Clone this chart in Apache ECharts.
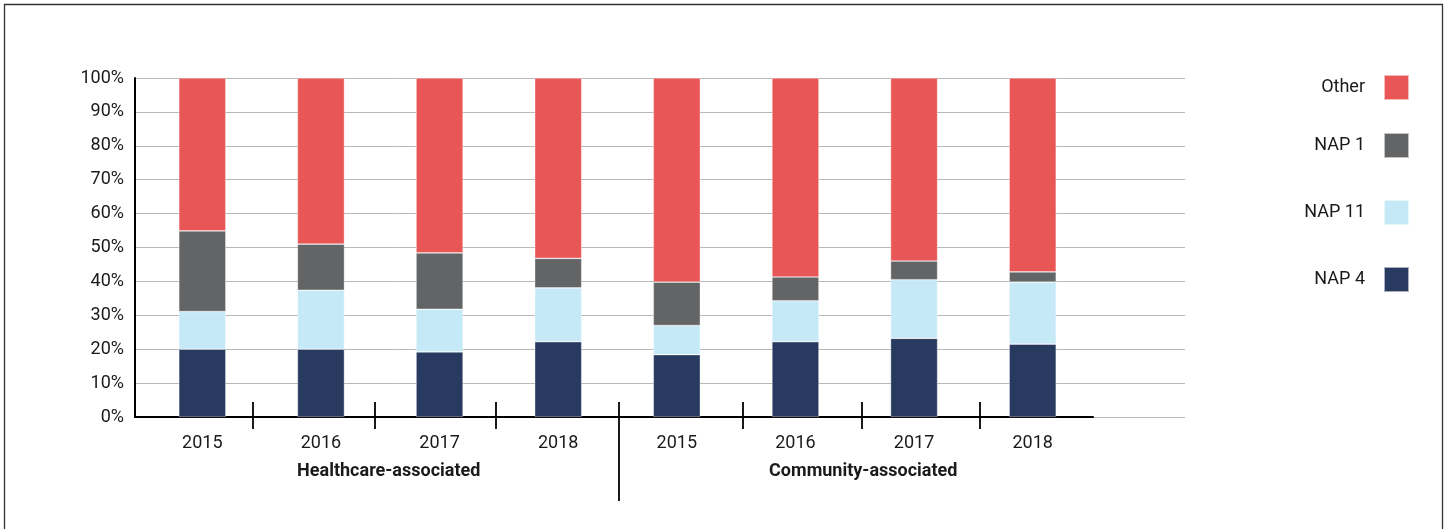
<!DOCTYPE html>
<html>
<head>
<meta charset="utf-8">
<script src="https://cdn.jsdelivr.net/npm/echarts@6/dist/echarts.min.js"></script>
<style>
html,body{margin:0;padding:0;background:#fff;}
#chart{width:1448px;height:529px;}
</style>
</head>
<body>
<div id="chart"></div>
<script>
// ---- data ----
const years = ['2015', '2016', '2017', '2018', '2015', '2016', '2017', '2018'];
const groups = ['Healthcare-associated', 'Community-associated'];
const nap4  = [20.0, 20.0, 19.2, 22.2, 18.4, 22.2, 23.2, 21.5];
const nap11 = [11.1, 17.4, 12.6, 15.9, 8.6, 12.1, 17.3, 18.3];
const nap1  = [23.8, 13.6, 16.6, 8.7, 12.8, 7.0, 5.5, 3.0];
const other = [45.1, 49.0, 51.6, 53.2, 60.2, 58.7, 54.0, 57.2];
const yTicks = [0, 10, 20, 30, 40, 50, 60, 70, 80, 90, 100];
// category separators (in category-slot units along the x axis)
const allBoundaries = [0.985, 2.005, 3.015, 4.04, 5.075, 6.07, 7.055];
const boundaryTicks = [0.985, 2.005, 3.015, 5.075, 6.07, 7.055];
const groupDivider = [4.04];

const colors = {
  'NAP 4': '#283a5f',
  'NAP 11': '#c6e9f8',
  'NAP 1': '#636466',
  'Other': '#e85656'
};

const FONT = 'Roboto, "Noto Sans", sans-serif';
const TXT = '#1a1a1a';

const chart = echarts.init(document.getElementById('chart'), null, {renderer: 'canvas'});

const topPx = 78, bottomPx = 112;

function bar(name, data) {
  return {
    name: name, type: 'bar', stack: 'total', data: data,
    xAxisIndex: 1, yAxisIndex: 1, barWidth: 47,
    itemStyle: {color: colors[name], borderColor: 'rgba(255,255,255,0.6)', borderWidth: 0.6},
    emphasis: {disabled: true}
  };
}

const legendBase = {
  orient: 'vertical', right: 38, align: 'right', padding: 0,
  itemWidth: 25, itemHeight: 25, icon: 'rect', selectedMode: false,
  textStyle: {fontSize: 18, color: TXT, fontFamily: FONT, padding: [0, 14, 0, 0]}
};

chart.setOption({
  animation: false,
  backgroundColor: '#fff',
  textStyle: {fontFamily: FONT},
  graphic: [{
    type: 'rect', silent: true,
    shape: {x: 4.5, y: 4.5, width: 1438, height: 600},
    style: {fill: 'none', stroke: '#333', lineWidth: 1.3}
  }],
  legend: [
    Object.assign({}, legendBase, {top: 74, data: ['Other']}),
    Object.assign({}, legendBase, {top: 132, itemGap: 40, data: ['NAP 1', 'NAP 11', 'NAP 4']})
  ],
  grid: [
    {left: 135, right: 263, top: topPx, bottom: bottomPx},
    {left: 143, right: 356, top: topPx, bottom: bottomPx},
    {left: 135, right: 355, top: topPx, bottom: bottomPx}
  ],
  xAxis: [
    {gridIndex: 0, type: 'value', show: false, min: 0, max: 1},
    {gridIndex: 1, type: 'category', data: years,
      axisLine: {show: false}, axisTick: {show: false},
      axisLabel: {fontSize: 18, color: TXT, margin: 17, fontFamily: FONT}},
    {gridIndex: 1, type: 'category', data: groups, position: 'bottom',
      axisLine: {show: false}, axisTick: {show: false},
      axisLabel: {fontSize: 18, fontWeight: 'bold', color: TXT, margin: 45, fontFamily: FONT, padding: [0, 0, 0, 17]}},
    {gridIndex: 2, type: 'value', min: 0, max: 8, position: 'bottom',
      axisLine: {show: true, lineStyle: {color: '#000', width: 2}},
      axisTick: {show: true, inside: true, length: 15, customValues: allBoundaries, lineStyle: {color: '#000', width: 1.8}},
      axisLabel: {show: false}, splitLine: {show: false}},
    {gridIndex: 2, type: 'value', min: 0, max: 8, position: 'bottom',
      axisLine: {show: false},
      axisTick: {show: true, inside: false, length: 12, customValues: boundaryTicks, lineStyle: {color: '#000', width: 1.8}},
      axisLabel: {show: false}, splitLine: {show: false}},
    {gridIndex: 2, type: 'value', min: 0, max: 8, position: 'bottom',
      axisLine: {show: false},
      axisTick: {show: true, inside: false, length: 84, customValues: groupDivider, lineStyle: {color: '#000', width: 1.8}},
      axisLabel: {show: false}, splitLine: {show: false}}
  ],
  yAxis: [
    {gridIndex: 0, type: 'value', min: 0, max: 100, interval: 10,
      axisLine: {show: true, lineStyle: {color: '#000', width: 2}},
      axisTick: {show: false},
      axisLabel: {fontSize: 18, color: TXT, margin: 11, fontFamily: FONT, formatter: '{value}%',
        customValues: yTicks},
      splitLine: {show: true, lineStyle: {color: '#b8b8b8', width: 1}}},
    {gridIndex: 1, type: 'value', min: 0, max: 100, show: false},
    {gridIndex: 2, type: 'value', min: 0, max: 100, show: false}
  ],
  series: [
    bar('NAP 4', nap4),
    bar('NAP 11', nap11),
    bar('NAP 1', nap1),
    bar('Other', other)
  ]
});
</script>
</body>
</html>
